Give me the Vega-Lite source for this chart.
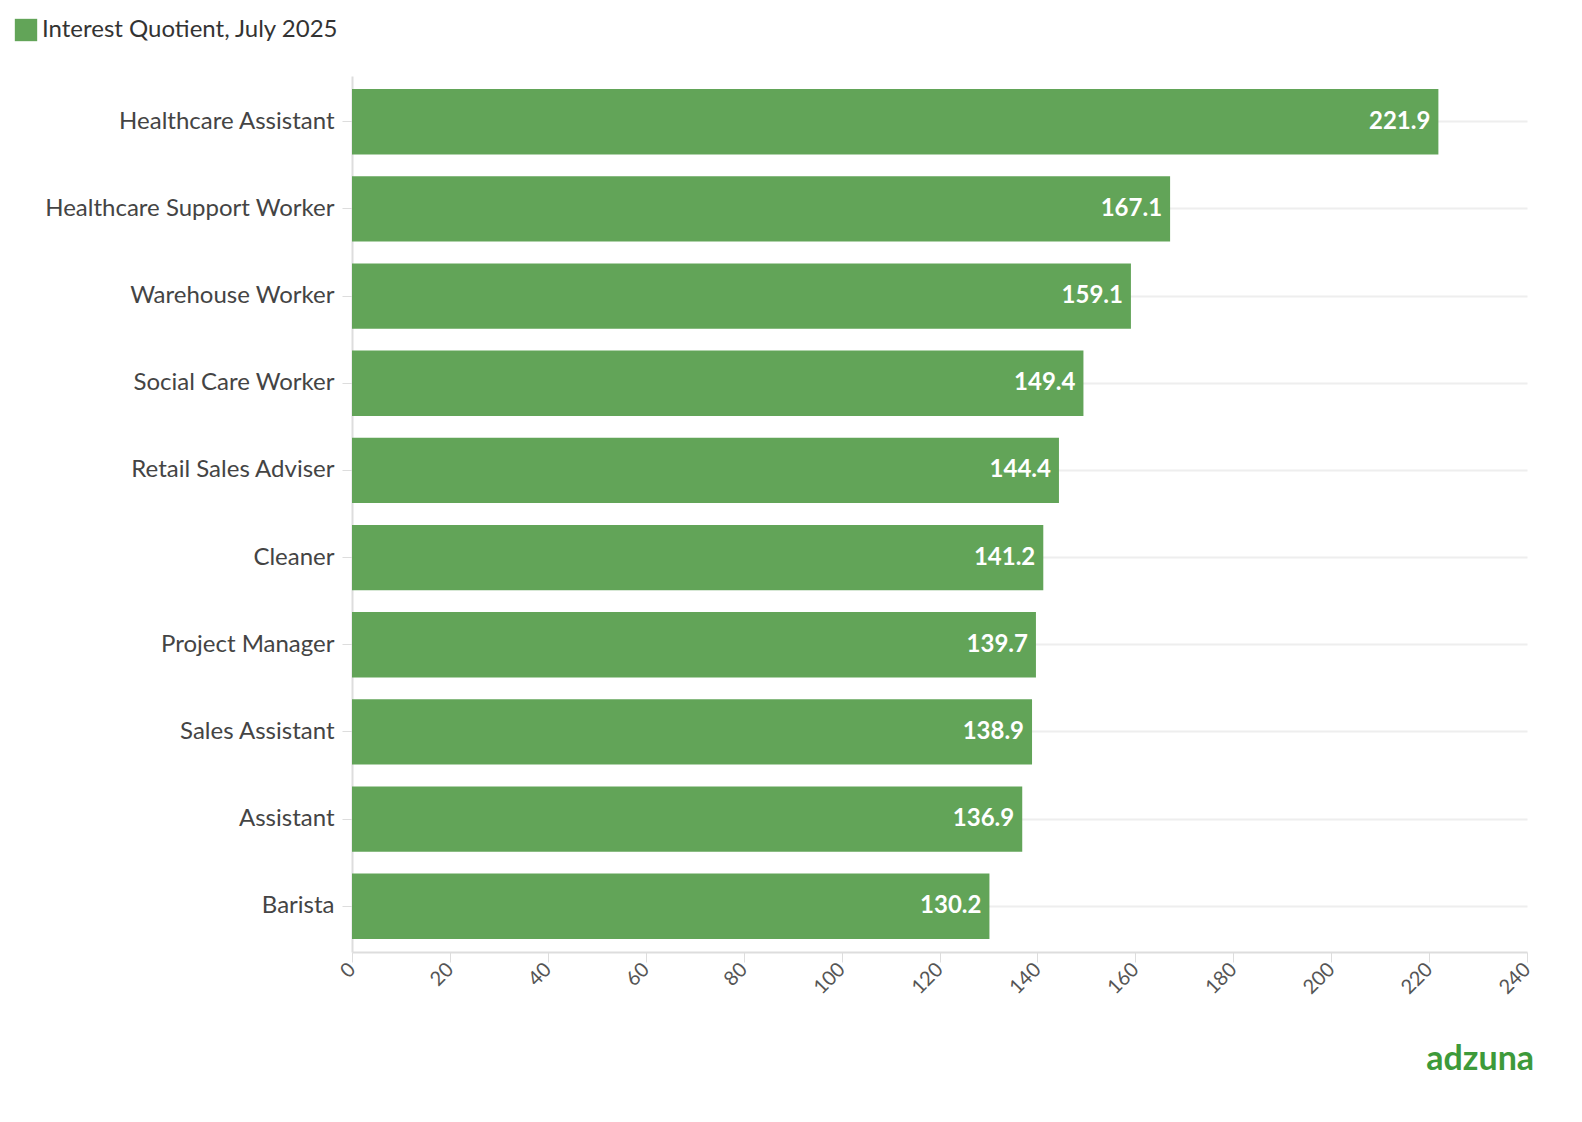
{
  "$schema": "https://vega.github.io/schema/vega-lite/v6.json",
  "width": 1175,
  "height": 876,
  "padding": {"left": 14, "top": 18, "right": 40, "bottom": 20},
  "background": "white",
  "config": {"font": "Lato", "view": {"stroke": null}},
  "title": {"text": "adzuna", "orient": "bottom", "anchor": "end", "color": "#3d9a3a", "fontSize": 34, "fontWeight": "bold", "offset": 45},
  "data": {
    "values": [
      {"job": "Healthcare Assistant", "iq": 221.9},
      {"job": "Healthcare Support Worker", "iq": 167.1},
      {"job": "Warehouse Worker", "iq": 159.1},
      {"job": "Social Care Worker", "iq": 149.4},
      {"job": "Retail Sales Adviser", "iq": 144.4},
      {"job": "Cleaner", "iq": 141.2},
      {"job": "Project Manager", "iq": 139.7},
      {"job": "Sales Assistant", "iq": 138.9},
      {"job": "Assistant", "iq": 136.9},
      {"job": "Barista", "iq": 130.2}
    ]
  },
  "encoding": {
    "y": {
      "field": "job", "type": "nominal", "sort": null, "title": null,
      "scale": {"paddingInner": 0.25, "paddingOuter": 0.15},
      "axis": {"labelFontSize": 24, "labelLimit": 500, "labelColor": "#444", "labelPadding": 8, "tickSize": 10, "tickColor": "#ddd", "domainColor": "#ddd", "domainWidth": 2, "grid": true, "gridColor": "#eee", "gridWidth": 2, "bandPosition": 0.5}
    },
    "x": {
      "field": "iq", "type": "quantitative", "title": null,
      "scale": {"domain": [0, 240], "nice": false},
      "axis": {"values": [0,20,40,60,80,100,120,140,160,180,200,220,240], "labelAngle": -45, "labelFontSize": 20, "labelColor": "#555", "grid": false, "tickSize": 10, "tickColor": "#ddd", "domainColor": "#ddd", "domainWidth": 2, "labelAlign": "right", "labelBaseline": "middle", "labelPadding": 4}
    }
  },
  "layer": [
    {
      "mark": {"type": "bar", "opacity": 0.95},
      "encoding": {
        "color": {"datum": "Interest Quotient, July 2025", "scale": {"range": ["#5a9f4f"]},
          "legend": {"title": null, "orient": "none", "legendX": -338, "legendY": -58, "labelFontSize": 24, "labelColor": "#333", "symbolType": "square", "symbolSize": 500, "symbolStrokeWidth": 0, "labelLimit": 500}}
      }
    },
    {
      "mark": {"type": "text", "align": "right", "dx": -8, "color": "white", "fontSize": 24, "fontWeight": "bold"},
      "encoding": {"text": {"field": "iq", "type": "quantitative", "format": ".1f"}}
    }
  ]
}
